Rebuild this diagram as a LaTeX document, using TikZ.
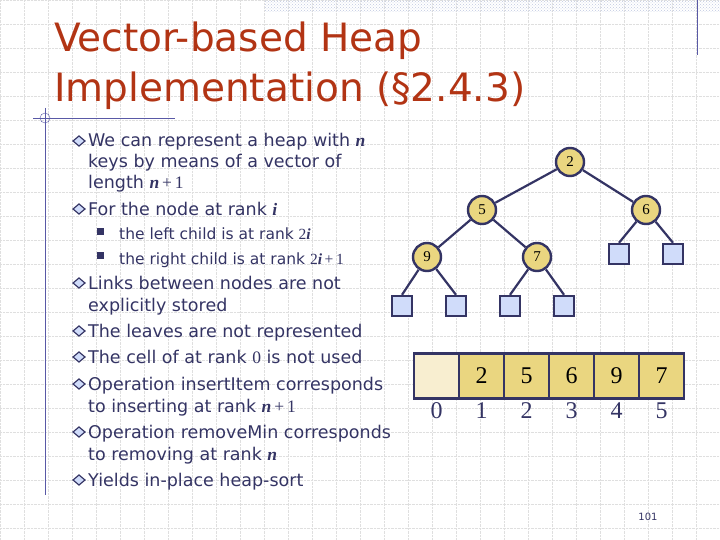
\documentclass[tikz,border=0pt]{standalone}
\usepackage{fontspec}
\setmainfont{DejaVu Sans}
\newfontfamily\mathserif{Liberation Serif}
\usetikzlibrary{patterns}
\definecolor{titlered}{RGB}{178,52,20}
\definecolor{navy}{RGB}{52,52,100}
\definecolor{keyfill}{RGB}{234,214,128}
\definecolor{leaffill}{RGB}{208,220,250}
\definecolor{emptyfill}{RGB}{248,238,208}
\newcommand{\vr}[1]{{\mathserif\bfseries\itshape #1}}
\newcommand{\vn}[1]{{\mathserif #1}}
\newcommand{\dia}{\tikz\draw[navy,fill=leaffill,line width=1.2pt] (0,-5pt) -- (6pt,0) -- (0,5pt) -- (-6pt,0) -- cycle;}
\begin{document}
\begin{tikzpicture}
      [ x=1pt, y=-1pt
      , key/.style={circle, draw=navy, fill=keyfill, line width=2.4pt, minimum size=28pt, inner sep=0pt, font=\mathserif\fontsize{15}{15}\selectfont}
      , leaf/.style={rectangle, draw=navy, fill=leaffill, line width=2.4pt, minimum size=20pt, inner sep=0pt}
      , edge/.style={navy, line width=2.2pt}
      , cell/.style={rectangle, draw=navy, fill=keyfill, line width=2.8pt, minimum width=45pt, minimum height=45pt, inner sep=0pt, font=\mathserif\fontsize{24}{24}\selectfont}
      , idx/.style={text=navy, font=\mathserif\fontsize{24}{24}\selectfont}
      , item/.style={anchor=base west, inner sep=0pt, text=navy, font=\fontsize{17.5}{17.5}\selectfont}
      , sub/.style={item, font=\fontsize{15.5}{15.5}\selectfont}
      ]
    \useasboundingbox (0,0) rectangle (720,540);
    \fill[white] (0,0) rectangle (720,540);
    % grid
    \foreach \gx in {0,24,...,720}
      \draw[gray!25, densely dotted] (\gx,0) -- (\gx,540);
    \foreach \gy in {0,24,...,540}
      \draw[gray!25, densely dotted] (0,\gy) -- (720,\gy);
    \fill[pattern=crosshatch dots, pattern color=leaffill!80!gray] (265,0) rectangle (720,12);
    \draw[gray!70!blue] (697,0) -- (697,55);
    \draw[gray!70!blue] (33,118) -- (175,118);
    \draw[gray!70!blue] (45,108) -- (45,495);
    \draw[gray!70!blue] (45,118) circle (5);

    % title
    \node[anchor=base west, inner sep=0pt, text=titlered, font=\fontsize{39}{39}\selectfont] (T1) at (54,52) {Vector-based Heap};
    \node[anchor=base west, inner sep=0pt, text=titlered, font=\fontsize{39}{39}\selectfont] (T2) at (54,102) {Implementation (§2.4.3)};

    % text
    \node[item] (L1) at (88,147) {We can represent a heap with \vr{n}};
    \node[item] (L2) at (88,168) {keys by means of a vector of};
    \node[item] (L3) at (88,189) {length \vr{n}\,\vn{+\,1}};
    \node[item] (L4) at (88,215) {For the node at rank \vr{i}};
    \node[sub] (L5) at (119,240) {the left child is at rank \vn{2}\vr{i}};
    \node[sub] (L6) at (119,264) {the right child is at rank \vn{2}\vr{i}\,\vn{+\,1}};
    \node[item] (L7) at (88,289) {Links between nodes are not};
    \node[item] (L8) at (88,311) {explicitly stored};
    \node[item] (L9) at (88,337) {The leaves are not represented};
    \node[item] (L10) at (88,363) {The cell of at rank \vn{0} is not used};
    \node[item] (L11) at (88,390) {Operation insertItem corresponds};
    \node[item] (L12) at (88,412) {to inserting at rank \vr{n}\,\vn{+\,1}};
    \node[item] (L13) at (88,438) {Operation removeMin corresponds};
    \node[item] (L14) at (88,460) {to removing at rank \vr{n}};
    \node[item] (L15) at (88,486) {Yields in-place heap-sort};
    \foreach \by in {141,209,283,331,357,384,432,480}
      \node[inner sep=0pt] at (79,\by) {\dia};
    \foreach \by in {235,259}
      \fill[navy] (97,\by) rectangle (104,\by-7);

    % tree
    \node[key] (k2) at (570,162) {2};
    \node[key] (k5) at (482,210) {5};
    \node[key] (k6) at (646,210) {6};
    \node[key] (k9) at (427,257) {9};
    \node[key] (k7) at (537,257) {7};
    \node[leaf] (l1) at (402,306) {};
    \node[leaf] (l2) at (456,306) {};
    \node[leaf] (l3) at (510,306) {};
    \node[leaf] (l4) at (564,306) {};
    \node[leaf] (l5) at (619,254) {};
    \node[leaf] (l6) at (673,254) {};
    \draw[edge] (k2) -- (k5) (k2) -- (k6)
      (k5) -- (k9) (k5) -- (k7)
      (k9) -- (l1.north) (k9) -- (l2.north)
      (k7) -- (l3.north) (k7) -- (l4.north)
      (k6) -- (l5.north) (k6) -- (l6.north);

    % vector
    \node[cell, fill=emptyfill] (c0) at (436.5,376) {};
    \foreach \v [count=\i] in {2,5,6,9,7}
      \node[cell] (c\i) at (436.5+45*\i,376) {\v};
    \foreach \i in {0,...,5}
      \node[idx] (n\i) at (436.5+45*\i,411) {\i};

    \node[text=navy, font=\fontsize{10}{10}\selectfont] (pg) at (648,517) {101};
\end{tikzpicture}
\end{document}
